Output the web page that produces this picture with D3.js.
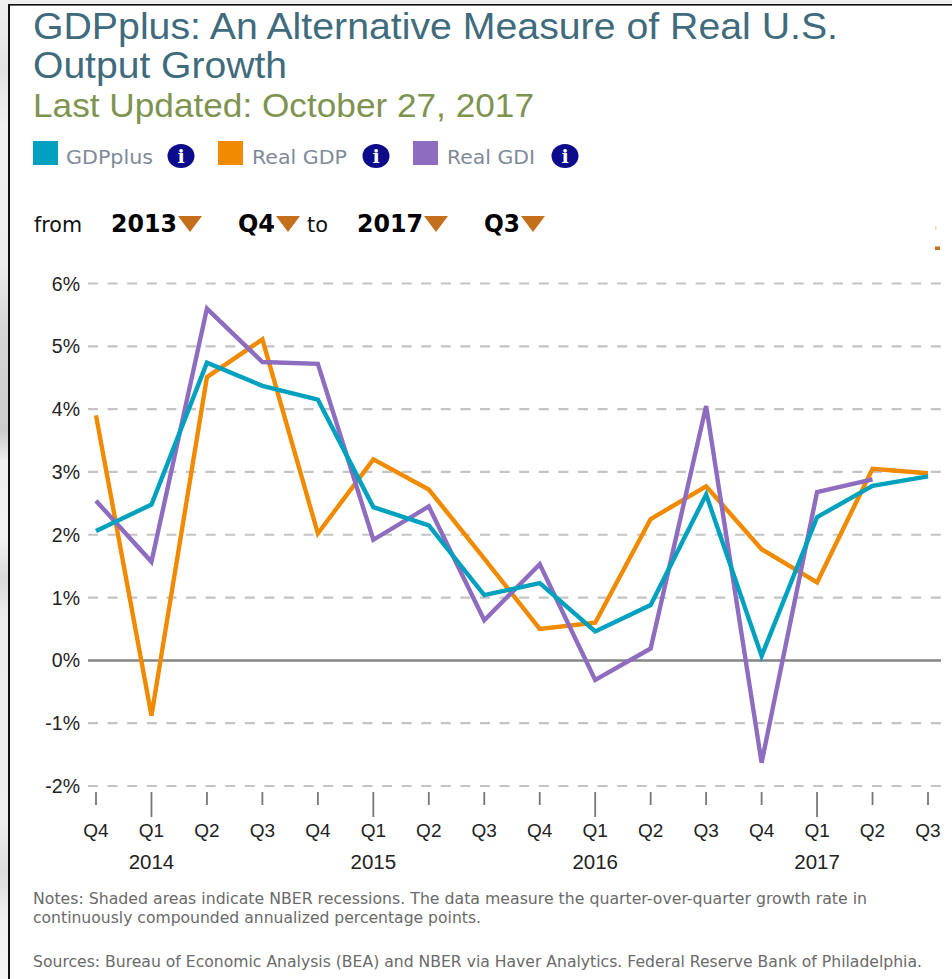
<!DOCTYPE html>
<html><head><meta charset="utf-8">
<script src="https://cdn.jsdelivr.net/npm/d3@7/dist/d3.min.js"></script>
<style>html,body{margin:0;padding:0;background:#fff;overflow:hidden}svg{display:block}</style>
</head><body><svg id="c" width="952" height="979"></svg>
<script>
const quarters=["Q4","Q1","Q2","Q3","Q4","Q1","Q2","Q3","Q4","Q1","Q2","Q3","Q4","Q1","Q2","Q3"];
const gdpPlus=[2.06,2.48,4.74,4.37,4.15,2.44,2.15,1.04,1.23,0.46,0.88,2.64,0.07,2.28,2.78,2.93];
const realGdp=[3.9,-0.88,4.51,5.11,2.02,3.2,2.72,1.62,0.5,0.6,2.25,2.77,1.77,1.24,3.05,2.98];
const realGdi=[2.54,1.57,5.6,4.75,4.72,1.92,2.45,0.64,1.53,-0.31,0.19,4.05,-1.63,2.68,2.88];
const yTicks=[-2,-1,0,1,2,3,4,5,6];
const years=[[1,"2014"],[5,"2015"],[9,"2016"],[13,"2017"]];
const legendItems=[["GDPplus","#00a0bf"],["Real GDP","#f08a00"],["Real GDI","#8e6cbf"]];
const svg=d3.select("#c");
const x=d3.scaleLinear().domain([0,15]).range([96,928]);
const y=d3.scaleLinear().domain([-2,6]).range([786,283.5]);
const arial="'Liberation Sans',Arial,sans-serif", tah="'DejaVu Sans',Verdana,sans-serif";
// page backdrop and frame
const defs=svg.append("defs");
const g1=defs.append("linearGradient").attr("id","strip").attr("x1",0).attr("x2",0).attr("y1",0).attr("y2",1);
[[0,"#f0f0f0"],[.07,"#e2e2e2"],[.13,"#f0f0f0"],[.27,"#ededed"],[.33,"#d6d6d6"],[.44,"#cbcbcb"],[.47,"#efefef"],[.55,"#f2f2f2"],[.59,"#dadada"],[.63,"#ececec"],[.84,"#eeeeee"],[.89,"#dcdcdc"],[.94,"#f0f0f0"],[1,"#f4f4f4"]].forEach(s=>g1.append("stop").attr("offset",s[0]).attr("stop-color",s[1]));
svg.append("rect").attr("width",952).attr("height",979).attr("fill","#efefef");
svg.append("rect").attr("width",8).attr("height",979).attr("fill","url(#strip)");
svg.append("rect").attr("x",8).attr("y",4).attr("width",944).attr("height",975).attr("fill","#fff");
svg.append("rect").attr("x",8).attr("y",4).attr("width",2).attr("height",975).attr("fill","#111");
svg.append("rect").attr("x",8).attr("y",4).attr("width",944).attr("height",1.6).attr("fill","#111");
const t=(s,px,py,size,fill,fam,extra={})=>{const e=svg.append("text").attr("x",px).attr("y",py).attr("font-size",size).attr("fill",fill).attr("font-family",fam).text(s);Object.entries(extra).forEach(([k,v])=>e.attr(k,v));return e;};
const fit=w=>({textLength:w,lengthAdjust:"spacingAndGlyphs"});
// heading
t("GDPplus: An Alternative Measure of Real U.S.",33,38.5,36,"#3f6b7c",arial,fit(805));
t("Output Growth",33,77.5,36,"#3f6b7c",arial,fit(254));
t("Last Updated: October 27, 2017",33,116.5,32.5,"#7f9350",arial,fit(501));
// legend
const legX=[33,218,413], legT=[66,252,447], infoX=[181,376,565], legW=[87,95,88];
legendItems.forEach((d,i)=>{
 svg.append("rect").attr("x",legX[i]).attr("y",141).attr("width",25).attr("height",24).attr("fill",d[1]);
 t(d[0],legT[i],164,20,"#7f8a99",tah,fit(legW[i]));
 svg.append("ellipse").attr("cx",infoX[i]).attr("cy",156).attr("rx",13.5).attr("ry",12).attr("fill","#0b0b8c");
 t("i",infoX[i],163,19,"#fff","'DejaVu Serif',serif",{"text-anchor":"middle","font-weight":"bold"});
});
// range selector
const tri=(cx)=>svg.append("path").attr("d",d3.line()([[cx-12,216],[cx+12,216],[cx,232]])+"Z").attr("fill","#c46f1c");
t("from",34,232,22,"#111",tah,fit(48));
[["2013",111,66,190],["Q4",238,37,288],["2017",357,66,436],["Q3",484,36,533]].forEach(d=>{
 t(d[0],d[1],232,25,"#000",tah,{"font-weight":"bold",...fit(d[2])});tri(d[3]);});
t("to",307,232,22,"#111",tah,fit(21));
svg.append("rect").attr("x",935).attr("y",246.5).attr("width",5).attr("height",3.5).attr("fill","#c46f1c");
svg.append("rect").attr("x",935).attr("y",226).attr("width",1.5).attr("height",4).attr("fill","#f1d6bd");
// grid
yTicks.forEach(v=>{
 svg.append("line").attr("x1",88).attr("x2",941).attr("y1",y(v)).attr("y2",y(v))
  .attr("stroke",v===0?"#858585":"#c4c4c4").attr("stroke-width",v===0?2.5:2.2)
  .attr("stroke-dasharray",v===0?null:"10 9.6");
 t(v+"%",80,y(v)+7,19.5,"#222",arial,{"text-anchor":"end"});
});
// x axis
quarters.forEach((q,i)=>{
 const major=q==="Q1";
 svg.append("line").attr("x1",x(i)).attr("x2",x(i)).attr("y1",792).attr("y2",major?817:805).attr("stroke","#777").attr("stroke-width",1.8);
 t(q,x(i),836.5,19,"#222",arial,{"text-anchor":"middle"});
});
years.forEach(d=>t(d[1],x(d[0]),868.5,20.5,"#222",arial,{"text-anchor":"middle"}));
// series
const line=d3.line().x((d,i)=>x(i)).y(d=>y(d));
[[realGdp,"#f08a00"],[realGdi,"#8e6cbf"],[gdpPlus,"#00a0bf"]].forEach(s=>{
 svg.append("path").attr("d",line(s[0])).attr("fill","none").attr("stroke",s[1]).attr("stroke-width",4.4).attr("stroke-linejoin","miter");
});
// notes
t("Notes: Shaded areas indicate NBER recessions. The data measure the quarter-over-quarter growth rate in",33,904,15.5,"#6a6a6a",tah,fit(834));
t("continuously compounded annualized percentage points.",33,923,15.5,"#6a6a6a",tah,fit(448));
t("Sources: Bureau of Economic Analysis (BEA) and NBER via Haver Analytics. Federal Reserve Bank of Philadelphia.",33,967,15.5,"#6a6a6a",tah,fit(889));
</script></body></html>
